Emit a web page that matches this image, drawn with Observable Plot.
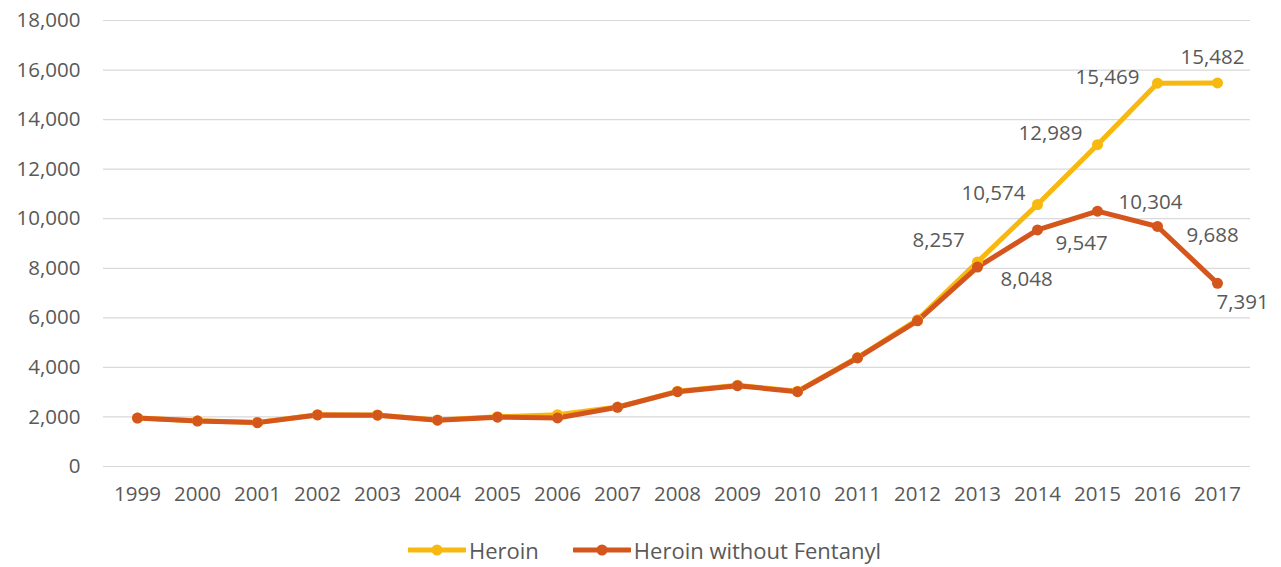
<!DOCTYPE html>
<html>
<head>
<meta charset="utf-8">
<script src="https://cdn.jsdelivr.net/npm/d3@7"></script>
<script src="https://cdn.jsdelivr.net/npm/@observablehq/plot@0.6"></script>
<style>
  body { margin: 0; background: #fff; font-family: "Open Sans", sans-serif; }
  #legend { display: flex; justify-content: center; align-items: center; gap: 34px; margin-top: 15px; color: #595959; font-size: 22px; padding-left: 8px; }
  .item { display: flex; align-items: center; gap: 3px; }
</style>
</head>
<body>
<div id="chart"></div>
<div id="legend"></div>
<script>
const years = ["1999","2000","2001","2002","2003","2004","2005","2006","2007","2008","2009","2010","2011","2012","2013","2014","2015","2016","2017"];
const heroin = [1960, 1842, 1779, 2089, 2080, 1878, 2009, 2088, 2399, 3041, 3278, 3036, 4397, 5925, 8257, 10574, 12989, 15469, 15482];
const heroinNoFent = [1955, 1835, 1770, 2080, 2070, 1870, 1990, 1960, 2390, 3020, 3260, 3020, 4380, 5880, 8048, 9547, 10304, 9688, 7391];
const yTicks = [0, 2000, 4000, 6000, 8000, 10000, 12000, 14000, 16000, 18000];
const seriesNames = ["Heroin", "Heroin without Fentanyl"];
const labeledYears = ["2013","2014","2015","2016","2017"];

const colors = ["#F7B90F", "#D4561C"];
// label placement (offsets in px) per series, per labeled year
const offsets = [
  [[-39,-21],[-44,-11],[-47,-11],[-50,-6],[-5,-25]],
  [[49,12],[44,13],[53,-9],[55,9],[25,19]]
];

const rows = [];
years.forEach((y, i) => {
  rows.push({year: y, value: heroin[i], series: seriesNames[0]});
  rows.push({year: y, value: heroinNoFent[i], series: seriesNames[1]});
});

const fmt = d3.format(",");
const labelMarks = [];
[heroin, heroinNoFent].forEach((vals, s) => {
  labeledYears.forEach((yr, k) => {
    const i = years.indexOf(yr);
    labelMarks.push(Plot.text([{year: yr, value: vals[i]}], {
      x: "year", y: "value", text: d => fmt(d.value),
      dx: offsets[s][k][0], dy: offsets[s][k][1],
      fill: "#595959", fontSize: 20.5
    }));
  });
});

const plot = Plot.plot({
  width: 1281,
  height: 520,
  marginTop: 20,
  marginBottom: 54,
  marginLeft: 103,
  marginRight: 31,
  style: {fontFamily: "'Open Sans', sans-serif", fontSize: "20.5px", color: "#595959", background: "#fff"},
  x: {type: "point", domain: years, padding: 0.5, label: null, tickSize: 0, tickPadding: 20},
  y: {domain: [0, 18000], ticks: yTicks, tickFormat: fmt, label: null, tickSize: 0, tickPadding: 23},
  color: {domain: seriesNames, range: colors},
  marks: [
    Plot.ruleY(yTicks, {stroke: "#d9d9d9", strokeWidth: 1.2}),
    Plot.line(rows, {x: "year", y: "value", z: "series", stroke: "series", strokeWidth: 5, strokeLinejoin: "round", strokeLinecap: "round"}),
    Plot.dot(rows, {x: "year", y: "value", fill: "series", r: 5.5}),
    ...labelMarks
  ]
});
document.getElementById("chart").appendChild(plot);

const legend = document.getElementById("legend");
seriesNames.forEach((name, i) => {
  const item = document.createElement("div");
  item.className = "item";
  item.innerHTML = `<svg width="58" height="14"><line x1="1" y1="7" x2="57" y2="7" stroke="${colors[i]}" stroke-width="5" stroke-linecap="round"/><circle cx="29" cy="7" r="5.5" fill="${colors[i]}"/></svg><span>${name}</span>`;
  legend.appendChild(item);
});
</script>
</body>
</html>
